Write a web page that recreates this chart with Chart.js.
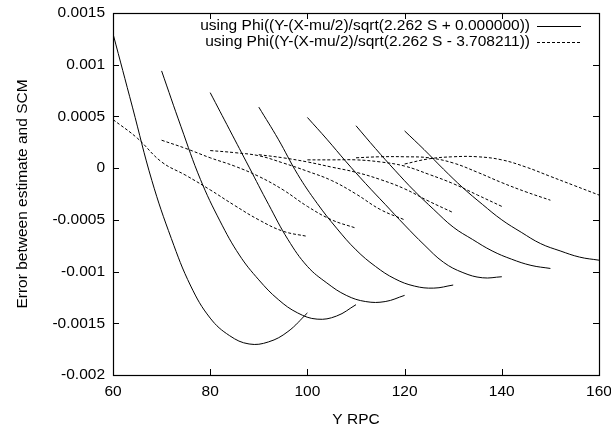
<!DOCTYPE html>
<html>
<head>
<meta charset="utf-8">
<style>
  html, body { margin: 0; padding: 0; background: #fff; }
</style>
</head>
<body>
<canvas id="errChart" width="611" height="431"></canvas>
<script src="https://cdn.jsdelivr.net/npm/chart.js"></script>
<script>
    const curveStarts = [60, 70, 80, 90, 100, 110, 120];
    const solidOffsets = [0, 4, 8, 12, 16, 20, 24, 28, 32, 36, 40];
    const dashOffsets = [0, 5, 10, 15, 20, 25, 30, 35, 40];

    // using Phi((Y-(X-mu/2)/sqrt(2.262 S + 0.000000))
    const solid60  = [0.0013, 0.00059, -0.00012, -0.00068, -0.00114, -0.00145, -0.00162, -0.0017, -0.00168, -0.00158, -0.0014];
    const solid70  = [0.00094, 0.0004, -0.00011, -0.00051, -0.00084, -0.00108, -0.00127, -0.0014, -0.00146, -0.00143, -0.00132];
    const solid80  = [0.00073, 0.00037, 0.00001, -0.00035, -0.00069, -0.00095, -0.00111, -0.00123, -0.00129, -0.00129, -0.00123];
    const solid90  = [0.00059, 0.00028, -0.00006, -0.00034, -0.00058, -0.00079, -0.00095, -0.00107, -0.00114, -0.00116, -0.00113];
    const solid100 = [0.00049, 0.00028, 0.00006, -0.00015, -0.00035, -0.00055, -0.00074, -0.00091, -0.00101, -0.00106, -0.00105];
    const solid110 = [0.00041, 0.00019, -0.00002, -0.00022, -0.0004, -0.00057, -0.00069, -0.0008, -0.00088, -0.00094, -0.00097];
    const solid120 = [0.00036, 0.00018, -0.00001, -0.00019, -0.00035, -0.0005, -0.00062, -0.00073, -0.0008, -0.00086, -0.00089];

    // using Phi((Y-(X-mu/2)/sqrt(2.262 S - 3.708211))
    const dash60  = [0.00047, 0.00029, 0.00006, -0.00007, -0.00021, -0.00036, -0.0005, -0.00061, -0.00066];
    const dash70  = [0.00027, 0.00019, 0.0001, 0.00002, -0.00008, -0.00021, -0.00037, -0.0005, -0.00058];
    const dash80  = [0.00017, 0.00015, 0.00012, 0.00005, -0.00003, -0.00012, -0.00025, -0.0004, -0.0005];
    const dash90  = [0.00013, 0.0001, 0.00006, 0.00001, -0.00004, -0.00011, -0.0002, -0.00032, -0.00043];
    const dash100 = [0.00008, 0.00008, 0.00008, 0.00006, 0.00002, -0.00006, -0.00015, -0.00026, -0.00037];
    const dash110 = [0.0001, 0.00011, 0.00011, 0.0001, 0.00005, -0.00004, -0.00014, -0.00023, -0.00031];
    const dash120 = [0.00004, 0.00009, 0.00011, 0.00011, 0.00008, 0.00001, -0.00008, -0.00017, -0.00026];

    const solidLabel = 'using Phi((Y-(X-mu/2)/sqrt(2.262 S + 0.000000))';
    const dashLabel = 'using Phi((Y-(X-mu/2)/sqrt(2.262 S - 3.708211))';
    const xTicks = [60, 80, 100, 120, 140, 160];
    const yTicks = [-0.002, -0.0015, -0.001, -0.0005, 0, 0.0005, 0.001, 0.0015];

    const solidSeries = [solid60, solid70, solid80, solid90, solid100, solid110, solid120];
    const dashSeries = [dash60, dash70, dash80, dash90, dash100, dash110, dash120];
    const DASH = [3, 2];
    const FONT = '"Liberation Sans", Arial, Helvetica, sans-serif';
    const FONT_SIZE = 15.5;

    function makeSet(start, offsets, ys, label, dashed) {
        return {
            label: label,
            data: ys.map((y, i) => ({x: start + offsets[i], y: y})),
            borderColor: '#000',
            borderWidth: 1,
            borderDash: dashed ? DASH : [],
            pointRadius: 0,
            fill: false,
            tension: 0.4
        };
    }

    const datasets = [];
    curveStarts.forEach((s, i) => datasets.push(makeSet(s, solidOffsets, solidSeries[i], solidLabel, false)));
    curveStarts.forEach((s, i) => datasets.push(makeSet(s, dashOffsets, dashSeries[i], dashLabel, true)));

    // gnuplot style frame, inward ticks on all four sides, key at top right
    const gnuFrame = {
        id: 'gnuFrame',
        afterDatasetsDraw(chart) {
            const ctx = chart.ctx, a = chart.chartArea;
            const xs = chart.scales.x, ys = chart.scales.y;
            ctx.save();
            ctx.strokeStyle = '#000';
            ctx.lineWidth = 1;
            ctx.setLineDash([]);
            ctx.beginPath();
            xTicks.forEach(v => {
                const px = Math.round(xs.getPixelForValue(v)) + 0.5;
                ctx.moveTo(px, a.bottom); ctx.lineTo(px, a.bottom - 6);
                ctx.moveTo(px, a.top); ctx.lineTo(px, a.top + 6);
            });
            yTicks.forEach(v => {
                const py = Math.round(ys.getPixelForValue(v)) + 0.5;
                ctx.moveTo(a.left, py); ctx.lineTo(a.left + 6, py);
                ctx.moveTo(a.right, py); ctx.lineTo(a.right - 6, py);
            });
            ctx.stroke();
            ctx.lineWidth = 1.2;
            ctx.strokeRect(Math.round(a.left) + 0.5, Math.round(a.top) + 0.5,
                Math.round(a.right - a.left), Math.round(a.bottom - a.top));

            // key
            ctx.font = FONT_SIZE + 'px ' + FONT;
            ctx.fillStyle = '#000';
            ctx.textAlign = 'right';
            ctx.textBaseline = 'middle';
            ctx.lineWidth = 1;
            const items = [{label: solidLabel, dash: []}, {label: dashLabel, dash: DASH}];
            items.forEach((it, i) => {
                const y = a.top + 12.5 + i * 16.5;
                ctx.fillText(it.label, a.right - 69, y);
                ctx.beginPath();
                ctx.setLineDash(it.dash);
                ctx.moveTo(a.right - 62, Math.round(y) + 0.5);
                ctx.lineTo(a.right - 18, Math.round(y) + 0.5);
                ctx.stroke();
            });
            ctx.restore();
        }
    };

    Chart.defaults.font.family = FONT;
    Chart.defaults.font.size = FONT_SIZE;
    Chart.defaults.color = '#000';

    const ctx = document.getElementById('errChart').getContext('2d');
    const errChart = new Chart(ctx, {
        type: 'line',
        data: { datasets: datasets },
        options: {
            responsive: false,
            animation: false,
            devicePixelRatio: 1,
            layout: { padding: { top: 13, right: 12, left: 0, bottom: 0 } },
            plugins: {
                legend: { display: false },
                tooltip: { enabled: false }
            },
            scales: {
                x: {
                    type: 'linear',
                    min: 60, max: 160,
                    afterFit: s => { s.height = 56; s.paddingLeft = 0; s.paddingRight = 0; },
                    afterBuildTicks: s => { s.ticks = xTicks.map(v => ({value: v})); },
                    grid: { display: false, drawTicks: false },
                    border: { display: false },
                    ticks: { padding: 7, maxRotation: 0 },
                    title: { display: true, text: 'Y RPC', padding: { top: 0, bottom: 2 } }
                },
                y: {
                    min: -0.002, max: 0.0015,
                    afterFit: s => { s.width = 113; s.paddingTop = 0; s.paddingBottom = 0; },
                    afterBuildTicks: s => { s.ticks = yTicks.map(v => ({value: v})); },
                    grid: { display: false, drawTicks: false },
                    border: { display: false },
                    ticks: {
                        padding: 8,
                        callback: v => String(parseFloat(Number(v).toFixed(6)))
                    },
                    title: { display: true, text: 'Error between estimate and SCM', padding: { top: 13, bottom: 0 } }
                }
            }
        },
        plugins: [gnuFrame]
    });
</script>
</body>
</html>
